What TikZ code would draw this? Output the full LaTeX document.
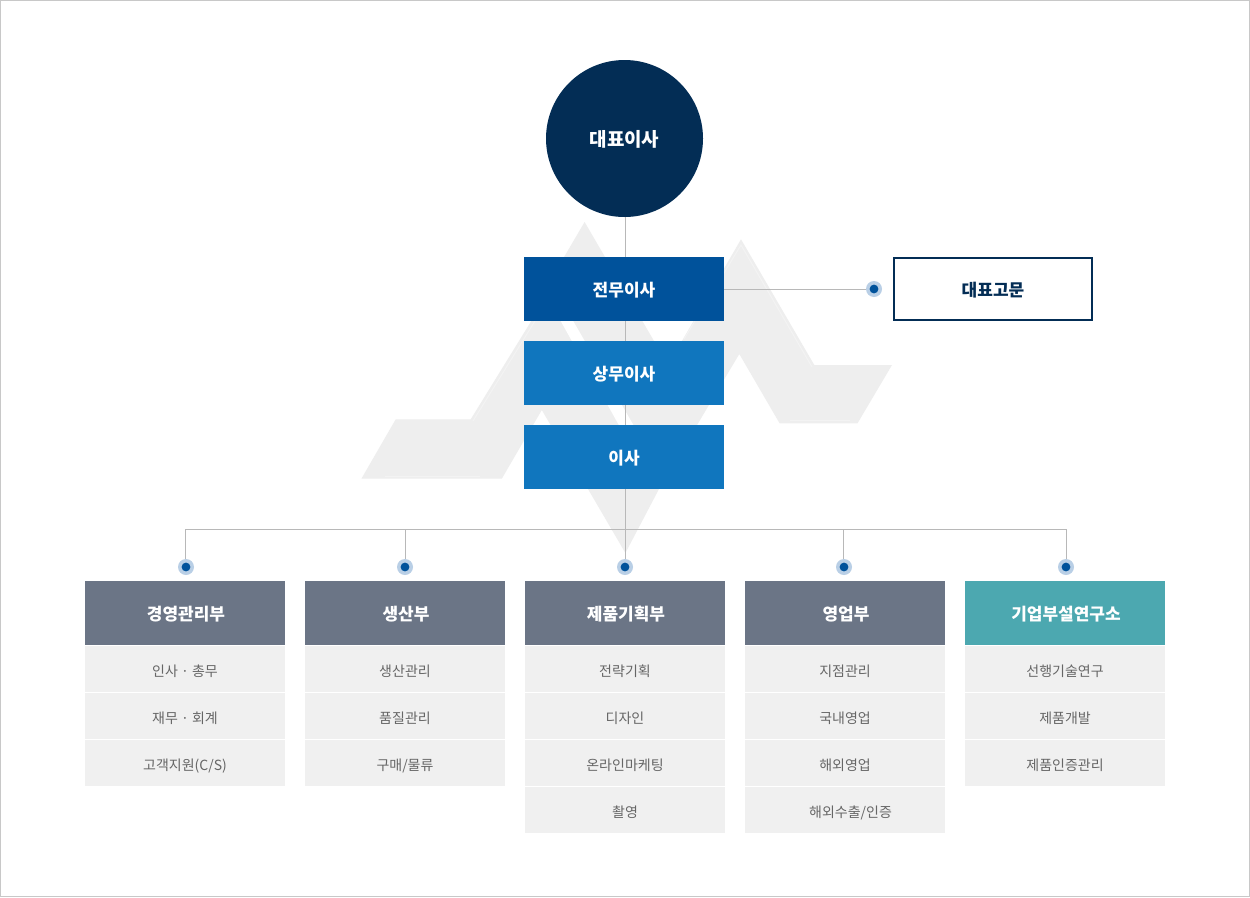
\documentclass[tikz,border=0pt]{standalone}
\usepackage{fontspec}
\setmainfont{Noto Sans CJK KR}
\newfontfamily\kr{Noto Sans CJK KR}
\usetikzlibrary{backgrounds}
\definecolor{navy}{HTML}{032D55}
\definecolor{bluedark}{HTML}{00529B}
\definecolor{bluemid}{HTML}{1076BE}
\definecolor{slate}{HTML}{6B7586}
\definecolor{teal2}{HTML}{4CA8B0}
\definecolor{itemgray}{HTML}{F0F0F0}
\definecolor{linegray}{HTML}{B8B8B8}
\definecolor{wm}{HTML}{EEEEEE}
\definecolor{wmlight}{HTML}{F3F3F3}
\definecolor{dotouter}{HTML}{B9CFE6}
\definecolor{txtgray}{HTML}{666666}
\definecolor{frame}{HTML}{C8C8C8}
\tikzset{
  x=1pt,y=-1pt,
  execbox/.style={rectangle,inner sep=0pt,minimum width=200pt,minimum height=64pt,text=white,text height=18pt,text depth=3pt,font=\kr\fontsize{17}{20}\selectfont\bfseries},
  exec1/.style={execbox,fill=bluedark},
  exec2/.style={execbox,fill=bluemid},
  ceobox/.style={circle,inner sep=0pt,minimum size=157pt,fill=navy,text=white,text height=19pt,text depth=3pt,font=\kr\fontsize{19}{22}\selectfont\bfseries},
  advisor/.style={rectangle,inner sep=0pt,minimum width=198pt,minimum height=62pt,draw=navy,line width=2pt,fill=white,text=navy,text height=18pt,text depth=3pt,font=\kr\fontsize{17}{20}\selectfont\bfseries},
  head/.style={rectangle,inner sep=0pt,minimum width=200pt,minimum height=64pt,fill=slate,text=white,text height=18pt,text depth=3pt,font=\kr\fontsize{17}{20}\selectfont\bfseries,execute at begin node={\hspace*{2pt}}},
  headteal/.style={head,fill=teal2},
  item/.style={rectangle,inner sep=0pt,minimum width=200pt,minimum height=46.3pt,fill=itemgray,text=txtgray,text height=17pt,text depth=3pt,font=\kr\fontsize{14}{17}\selectfont},
  dotnode/.style={circle,inner sep=0pt,minimum size=16pt,fill=dotouter,path picture={\fill[bluedark] (path picture bounding box.center) circle (4.4pt);}},
  conn/.style={draw=linegray,line width=1pt},
}
\begin{document}
\begin{tikzpicture}
\useasboundingbox (0,0) rectangle (1250,897);

\node[ceobox] (ceo) at (624.5,138.5) {대표이사};
\node[exec1] (jeonmu) at (624,289) {전무이사};
\node[exec2] (sangmu) at (624,373) {상무이사};
\node[exec2] (isa) at (624,457) {이사};
\node[advisor] (adv) at (993,289) {대표고문};
\node[dotnode] (dota) at (874,289) {};

\node[dotnode] (dot1) at (186,567) {};
\node[dotnode] (dot2) at (405,567) {};
\node[dotnode] (dot3) at (625,567) {};
\node[dotnode] (dot4) at (844,567) {};
\node[dotnode] (dot5) at (1066,567) {};

\node[head] (h1) at (185,613) {경영관리부};
\node[item] (i11) at (185,669.3) {인사 · 총무};
\node[item] (i12) at (185,716.2) {재무 · 회계};
\node[item] (i13) at (185,763.2) {고객지원(C/S)};

\node[head] (h2) at (405,613) {생산부};
\node[item] (i21) at (405,669.3) {생산관리};
\node[item] (i22) at (405,716.2) {품질관리};
\node[item] (i23) at (405,763.2) {구매/물류};

\node[head] (h3) at (625,613) {제품기획부};
\node[item] (i31) at (625,669.3) {전략기획};
\node[item] (i32) at (625,716.2) {디자인};
\node[item] (i33) at (625,763.2) {온라인마케팅};
\node[item] (i34) at (625,810) {촬영};

\node[head] (h4) at (845,613) {영업부};
\node[item] (i41) at (845,669.3) {지점관리};
\node[item] (i42) at (845,716.2) {국내영업};
\node[item] (i43) at (845,763.2) {해외영업};
\node[item] (i44) at (845,810) {\hspace*{11pt}해외수출/인증};

\node[headteal] (h5) at (1065,613) {기업부설연구소};
\node[item] (i51) at (1065,669.3) {선행기술연구};
\node[item] (i52) at (1065,716.2) {제품개발};
\node[item] (i53) at (1065,763.2) {제품인증관리};

\coordinate (bus1) at (185.5,529.5);
\coordinate (bus2) at (405.5,529.5);
\coordinate (bus3) at (625.5,529.5);
\coordinate (bus4) at (843.5,529.5);
\coordinate (bus5) at (1066.5,529.5);
\coordinate (advline) at (800,289.5);

\begin{scope}[on background layer]
  \fill[white] (0,0) rectangle (1250,897);
  \draw[frame,line width=1pt] (0.5,0.5) rectangle (1249.5,896.5);
  % watermark
  \fill[wm] (361.4,478.7) -- (395.7,419.3) -- (470.7,419.3) -- (546.7,296) -- (550,281)
     -- (584.6,222) -- (668,365) -- (741,239.3) -- (814.3,365) -- (892,365)
     -- (857.5,423.3) -- (779.6,423.3) -- (739.3,354) -- (659,489) -- (625.4,553)
     -- (541.8,410) -- (501.8,478.7) -- cycle;
  \fill[white] (546.7,296) -- (550,281) -- (645,445) -- (630,445) -- cycle;
  \draw[wmlight,line width=1pt] (473,421) -- (535,321);
  \draw[wmlight,line width=1pt] (684,339) -- (741,245) -- (812,367);
  \draw[wmlight,line width=1pt] (385,476) -- (480,476);
  \draw[wmlight,line width=1pt] (790,420.5) -- (850,420.5);
  % connectors
  \draw[conn] (ceo.south -| bus3) -- (bus3 |- dot3.north);
  \draw[conn] (bus1 |- dot1.north) -- (bus1) -- (bus5) -- (bus5 |- dot5.north);
  \draw[conn] (bus2) -- (bus2 |- dot2.north);
  \draw[conn] (bus4) -- (bus4 |- dot4.north);
  \draw[conn] (jeonmu.east |- advline) -- (advline -| dota.west);
\end{scope}
\end{tikzpicture}
\end{document}
